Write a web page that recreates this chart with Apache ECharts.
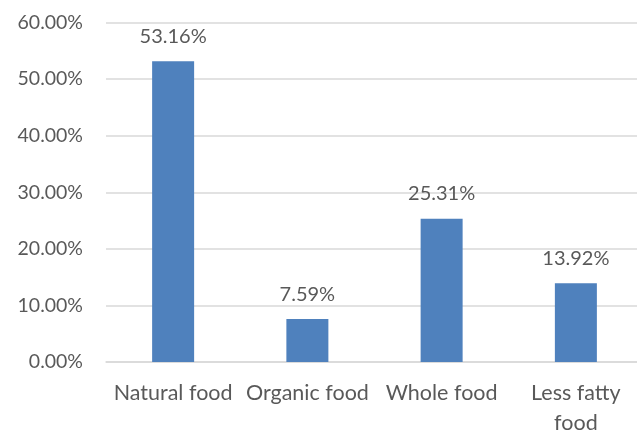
<!DOCTYPE html>
<html>
<head>
<meta charset="utf-8">
<script src="https://cdn.jsdelivr.net/npm/echarts@6/dist/echarts.min.js"></script>
<style>
  html, body { margin: 0; padding: 0; background: #fff; }
  #chart { width: 637px; height: 434px; }
</style>
</head>
<body>
<div id="chart"></div>
<script>
// Share of respondents by preferred food type
const categories = ['Natural food', 'Organic food', 'Whole food', 'Less fatty\nfood'];
const shares = [53.16, 7.59, 25.31, 13.92];

const FONT = 'Lato, "Open Sans", sans-serif';
const TEXT = '#595959';

const chart = echarts.init(document.getElementById('chart'), null, { renderer: 'canvas' });
chart.setOption({
  animation: false,
  grid: {
    left: 106, right: -6, top: 22.5, bottom: 72,
    containLabel: false, outerBoundsMode: 'none'
  },
  xAxis: {
    type: 'category',
    data: categories,
    axisLine: { show: true, lineStyle: { color: '#d9d9d9', width: 1.5 } },
    axisTick: { show: false },
    axisLabel: {
      color: TEXT, fontFamily: FONT, fontSize: 21.5, margin: 16, lineHeight: 30,
      interval: 0
    }
  },
  yAxis: {
    type: 'value',
    min: 0, max: 60, interval: 10,
    axisLine: { show: false },
    axisTick: { show: false },
    splitLine: { lineStyle: { color: '#d9d9d9', width: 1.5 } },
    axisLabel: {
      color: TEXT, fontFamily: FONT, fontSize: 19.5, margin: 23,
      formatter: v => v.toFixed(2) + '%'
    }
  },
  series: [{
    type: 'bar',
    data: shares,
    barWidth: 42,
    itemStyle: { color: '#4f81bd' },
    label: {
      show: true, position: 'top', distance: 15,
      color: TEXT, fontFamily: FONT, fontSize: 20,
      formatter: p => p.value.toFixed(2) + '%'
    }
  }]
});
</script>
</body>
</html>
